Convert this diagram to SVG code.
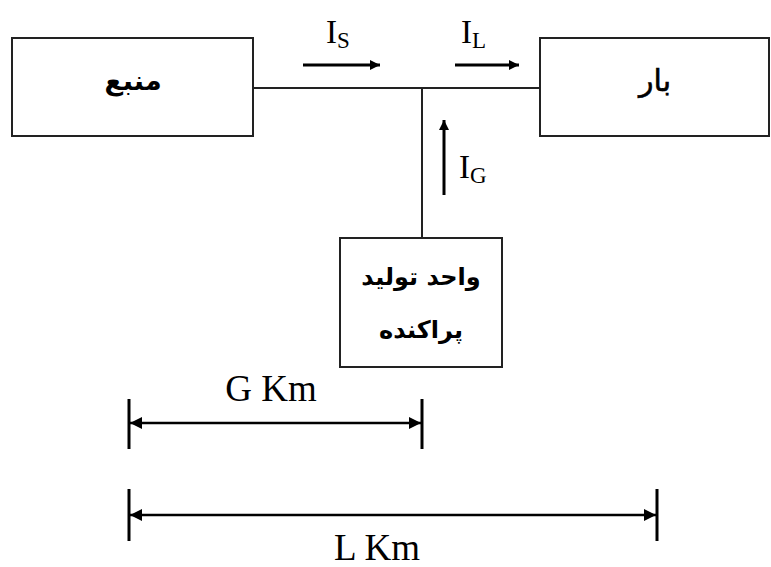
<svg xmlns="http://www.w3.org/2000/svg" width="771" height="567" viewBox="0 0 771 567">
  <defs>
    <marker id="arr" viewBox="0 0 10 10" refX="10" refY="5" markerWidth="10" markerHeight="10" markerUnits="userSpaceOnUse" orient="auto">
      <path d="M0,0 L10,5 L0,10 z" fill="#000"/>
    </marker>
    <marker id="arrS" viewBox="0 0 10 10" refX="10" refY="5" markerWidth="12" markerHeight="12" markerUnits="userSpaceOnUse" orient="auto-start-reverse">
      <path d="M0,0 L10,5 L0,10 z" fill="#000"/>
    </marker>
  </defs>
  <style>
    .box { fill: #fff; stroke: #222; stroke-width: 2; }
    .wire { stroke: #222; stroke-width: 2; fill: none; }
    .flow { stroke: #000; stroke-width: 3; fill: none; }
    .dim { stroke: #000; stroke-width: 2.5; fill: none; }
    .tick { stroke: #000; stroke-width: 3; }
    .fa { font-family: "DejaVu Sans", sans-serif; font-weight: bold; font-size: 27px; fill: #000; text-anchor: middle; }
    .fa.light { font-weight: normal; font-size: 30px; stroke: #000; stroke-width: 0.6; }
    .fa.gen { font-size: 24px; }
    .lbl { font-family: "Liberation Serif", "Times New Roman", serif; font-size: 33px; fill: #000; }
    .big { font-size: 37px; }
    .sub { font-size: 23px; }
  </style>
  <rect width="771" height="567" fill="#fff"/>

  <g id="connectors">
    <path class="wire" d="M253,88 H540"/>
    <path class="wire" d="M422,88 V238"/>
  </g>

  <g id="source">
    <rect class="box" x="12" y="38" width="241" height="98"/>
    <text class="fa" x="133" y="90" direction="rtl">منبع</text>
  </g>

  <g id="load">
    <rect class="box" x="540" y="38" width="229" height="98"/>
    <text class="fa light" x="655" y="91" direction="rtl">بار</text>
  </g>

  <g id="generator">
    <rect class="box" x="340" y="238" width="162" height="129"/>
    <text class="fa gen" x="421" y="285" direction="rtl">واحد تولید</text>
    <text class="fa gen" x="421" y="338" direction="rtl">پراکنده</text>
  </g>

  <g id="currents">
    <path class="flow" d="M303,65 H380" marker-end="url(#arr)"/>
    <text class="lbl" x="326" y="43">I<tspan class="sub" dy="5">S</tspan></text>
    <path class="flow" d="M455,65 H519" marker-end="url(#arr)"/>
    <text class="lbl" x="461" y="43">I<tspan class="sub" dy="5">L</tspan></text>
    <path class="flow" d="M444,195 V120" marker-end="url(#arr)"/>
    <text class="lbl" x="459" y="178">I<tspan class="sub" dy="5">G</tspan></text>
  </g>

  <g id="dimensions">
    <line class="tick" x1="129" y1="399" x2="129" y2="449"/>
    <line class="tick" x1="422" y1="399" x2="422" y2="449"/>
    <path class="dim" d="M130,423 H421" marker-start="url(#arrS)" marker-end="url(#arrS)"/>
    <text class="lbl big" x="271" y="401" text-anchor="middle">G Km</text>

    <line class="tick" x1="129" y1="489" x2="129" y2="541"/>
    <line class="tick" x1="657" y1="489" x2="657" y2="541"/>
    <path class="dim" d="M130,515 H656" marker-start="url(#arrS)" marker-end="url(#arrS)"/>
    <text class="lbl big" x="377" y="560" text-anchor="middle">L Km</text>
  </g>
</svg>
